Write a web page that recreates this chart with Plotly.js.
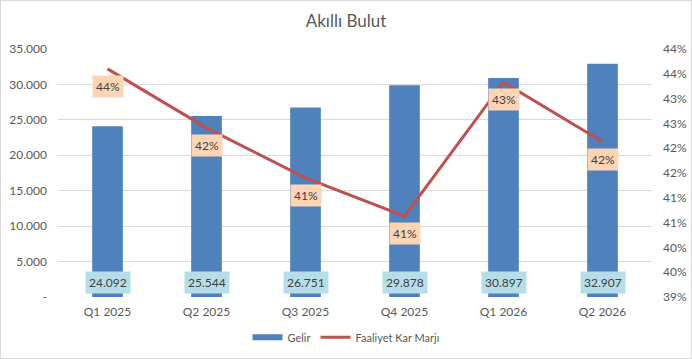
<!DOCTYPE html>
<html><head><meta charset="utf-8">
<script src="https://cdn.plot.ly/plotly-3.0.1.min.js"></script>
<style>body{margin:0;padding:0;background:#fff}#chart{width:692px;height:359px;box-sizing:border-box;border:1px solid #d9d9d9}</style>
</head><body><div id="chart"></div>
<script>
const categories = ["Q1 2025","Q2 2025","Q3 2025","Q4 2025","Q1 2026","Q2 2026"];
const revenue = [24092, 25544, 26751, 29878, 30897, 32907];
const revenueLabels = ["24.092","25.544","26.751","29.878","30.897","32.907"];
const margin = [0.4360, 0.4241, 0.4140, 0.4063, 0.4333, 0.4213];
const marginLabels = ["44%","42%","41%","41%","43%","42%"];
const leftTickVals = [0,5000,10000,15000,20000,25000,30000,35000];
const leftTickText = ["-","5.000","10.000","15.000","20.000","25.000","30.000","35.000"];
const rightTickVals = [0.39,0.395,0.40,0.405,0.41,0.415,0.42,0.425,0.43,0.435,0.44];
const rightTickText = ["39%","40%","40%","41%","41%","42%","42%","43%","43%","44%","44%"];

const font = "Lato, 'Liberation Sans', sans-serif";
const grey = "#595959";
const blue = "#4f81bd";

const traces = [
  {type:"bar", name:"Gelir", x:categories, y:revenue, marker:{color:blue}, yaxis:"y", hoverinfo:"none", showlegend:false},
  {type:"scatter", mode:"lines", name:"Gelir", x:[null], y:[null], yaxis:"y", line:{color:blue, width:6}, hoverinfo:"none"},
  {type:"scatter", mode:"lines", name:"Faaliyet Kar Marjı", x:categories, y:margin, yaxis:"y2",
   line:{color:"#c0504d", width:3}, hoverinfo:"none"}
];

const annotations = [];
categories.forEach((c,i)=>{
  annotations.push({x:c, y:0, xref:"x", yref:"y", text:revenueLabels[i], showarrow:false,
    yanchor:"bottom", yshift:3, bgcolor:"#b7dee8", borderpad:3,
    font:{family:font, size:12, color:"#404040"}});
  annotations.push({x:c, y:margin[i], xref:"x", yref:"y2", text:marginLabels[i], showarrow:false,
    yanchor:"top", yshift:-6, bgcolor:"#fcd5b4", borderpad:3,
    font:{family:font, size:12, color:"#404040"}});
});

const layout = {
  width:690, height:357,
  margin:{l:57, r:39, t:48, b:61},
  paper_bgcolor:"#fff", plot_bgcolor:"#fff",
  font:{family:font, size:11, color:grey},
  title:{text:"Akıllı Bulut", x:0.5, xanchor:"center", y:0.945, yanchor:"middle",
         font:{family:font, size:17, color:grey}},
  bargap:0.69,
  showlegend:true,
  legend:{orientation:"h", x:0.5, xanchor:"center", xref:"container", y:0.058, yref:"container", yanchor:"middle",
          font:{family:font, size:11, color:grey}, itemwidth:30},
  xaxis:{type:"category", showgrid:false, showline:false, zeroline:false, ticks:"",
         tickfont:{family:font, size:12, color:grey}, ticklabelstandoff:6},
  yaxis:{range:[0,35000], tickvals:leftTickVals, ticktext:leftTickText, showgrid:true,
         gridcolor:"#d9d9d9", gridwidth:1, zeroline:false, showline:false, ticks:"",
         tickfont:{family:font, size:12, color:grey}, ticklabelstandoff:10, fixedrange:true},
  yaxis2:{range:[0.39,0.44], overlaying:"y", side:"right", tickvals:rightTickVals, ticktext:rightTickText,
          showgrid:false, zeroline:false, showline:false, ticks:"",
          tickfont:{family:font, size:12, color:grey}, ticklabelstandoff:10},
  annotations:annotations
};
Plotly.newPlot("chart", traces, layout, {displayModeBar:false, staticPlot:true});
</script></body></html>
